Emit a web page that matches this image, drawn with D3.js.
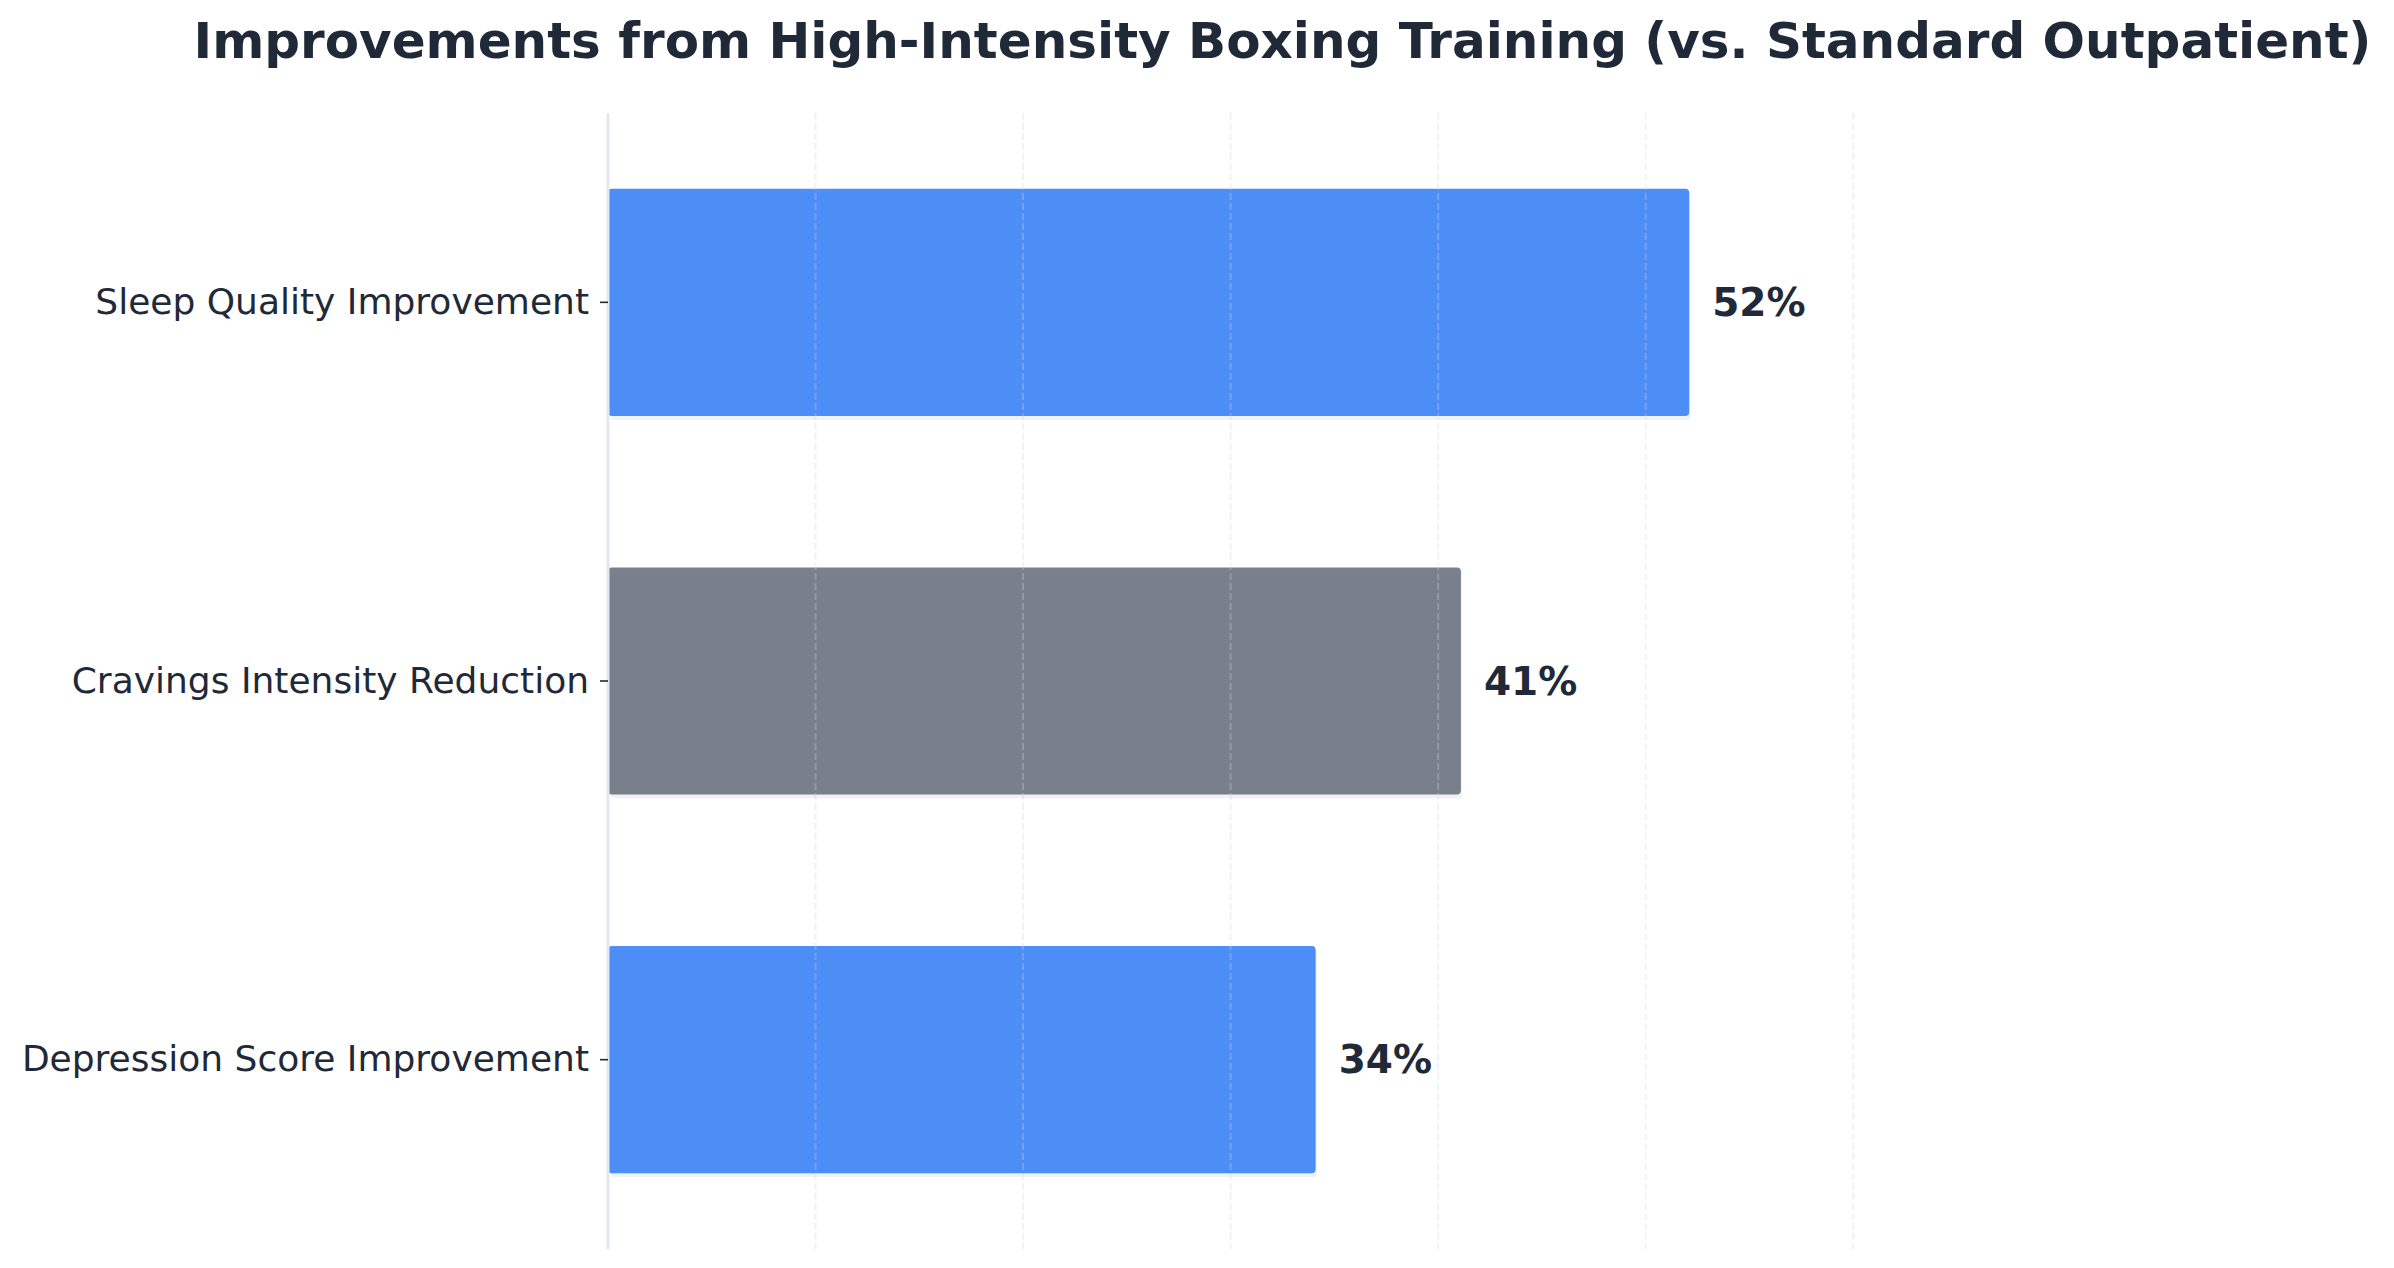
<!DOCTYPE html>
<html>
<head>
<meta charset="utf-8">
<script src="https://cdn.jsdelivr.net/npm/d3@7"></script>
<style>
  body { margin: 0; background: #fff; }
  text { font-family: "DejaVu Sans", sans-serif; fill: #1f2937; }
</style>
</head>
<body>
<div id="chart"></div>
<script>
// chart data
const categories = ["Sleep Quality Improvement", "Cravings Intensity Reduction", "Depression Score Improvement"];
const values = [52, 41, 34];
const barColors = ["#3b82f6", "#6b7280", "#3b82f6"];
const gridTicks = [10, 20, 30, 40, 50, 60];
const title = "Improvements from High-Intensity Boxing Training (vs. Standard Outpatient)";

const W = 2394, H = 1268;
let margin = {top: 113, right: 437, bottom: 19, left: 608},
  width = W - margin.left - margin.right,
  height = H - margin.top - margin.bottom;

let svg = d3.select("#chart")
  .append("svg")
  .attr("width", W)
  .attr("height", H);

let g = svg.append("g")
  .attr("transform", "translate(" + margin.left + "," + margin.top + ")");

let x = d3.scaleLinear()
  .domain([0, 65])
  .range([0, width]);

let y = d3.scaleBand()
  .domain(categories)
  .range([0, height])
  .paddingInner(0.4)
  .paddingOuter(0.2);

let data = categories.map((c, i) => ({name: c, value: values[i], color: barColors[i]}));

// soft shadow under each bar
g.selectAll(".shadow")
  .data(data)
  .enter().append("rect")
  .attr("class", "shadow")
  .attr("x", 3)
  .attr("y", d => y(d.name) + 4)
  .attr("width", d => x(d.value))
  .attr("height", y.bandwidth())
  .attr("rx", 3)
  .attr("fill", "#cbd5e1")
  .attr("opacity", 0.3);

g.selectAll(".bar")
  .data(data)
  .enter().append("rect")
  .attr("class", "bar")
  .attr("x", 0)
  .attr("y", d => y(d.name))
  .attr("width", d => x(d.value) + 2)
  .attr("height", y.bandwidth())
  .attr("rx", 4)
  .attr("fill", d => d.color)
  .attr("fill-opacity", 0.9);

// dashed grid on top of the bars
g.selectAll(".grid")
  .data(gridTicks)
  .enter().append("line")
  .attr("class", "grid")
  .attr("x1", d => x(d))
  .attr("x2", d => x(d))
  .attr("y1", 0)
  .attr("y2", height)
  .attr("stroke", "#d1d5db")
  .attr("stroke-width", 2)
  .attr("stroke-dasharray", "7,3")
  .attr("opacity", 0.3);

// left spine
g.append("line")
  .attr("x1", 0).attr("x2", 0)
  .attr("y1", 0).attr("y2", height)
  .attr("stroke", "#e2e8f0")
  .attr("stroke-width", 3);

let yAxis = g.append("g")
  .call(d3.axisLeft(y).tickSize(8).tickPadding(11));
yAxis.select(".domain").remove();
yAxis.selectAll(".tick line")
  .attr("stroke", "#1f2937")
  .attr("stroke-width", 1.6);
yAxis.selectAll(".tick text")
  .style("font-family", "DejaVu Sans, sans-serif")
  .style("font-size", "36px")
  .style("fill", "#1f2937");

g.selectAll(".value")
  .data(data)
  .enter().append("text")
  .attr("class", "value")
  .attr("x", d => x(d.value) + 25)
  .attr("y", d => y(d.name) + y.bandwidth() / 2)
  .attr("dominant-baseline", "central")
  .style("font-size", "39px")
  .style("font-weight", "bold")
  .text(d => d.value + "%");

svg.append("text")
  .attr("x", margin.left + width / 2)
  .attr("y", 58)
  .attr("text-anchor", "middle")
  .style("font-size", "50px")
  .style("font-weight", "bold")
  .text(title);
</script>
</body>
</html>
